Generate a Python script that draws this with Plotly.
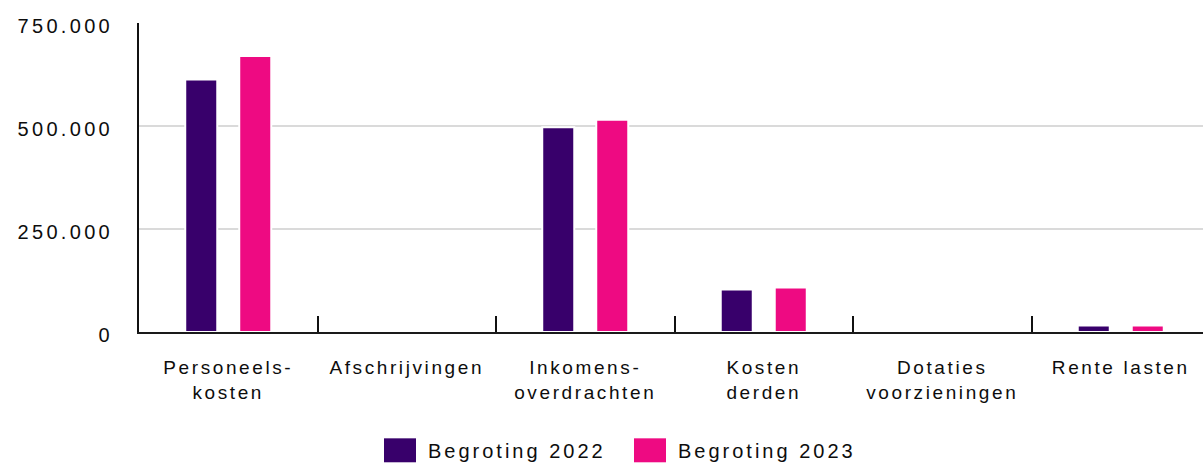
import plotly.graph_objects as go

categories = ["Personeels-<br>kosten", "Afschrijvingen", "Inkomens-<br>overdrachten",
              "Kosten<br>derden", "Dotaties<br>voorzieningen", "Rente lasten"]
series_names = ["Begroting 2022", "Begroting 2023"]
values_2022 = [613000, 0, 497000, 103000, 1000, 16000]
values_2023 = [670000, 0, 515000, 108000, 1000, 16000]
y_tickvals = [0, 250000, 500000, 750000]

colors = ["#38006b", "#ee0a82"]
FONT = "Liberation Sans, Arial, sans-serif"
TEXT = "#0d0d0d"

W, H = 1203, 464
ML, MR, MT, MB = 139, 0, 23, 131.5
PW = W - ML - MR
PH = H - MT - MB

fig = go.Figure()
for name, vals, col in zip(series_names, [values_2022, values_2023], colors):
    fig.add_trace(go.Bar(x=categories, y=vals, name=name, marker_color=col,
                         marker_line_color="white", marker_line_width=2,
                         showlegend=False, hoverinfo="skip"))

cat_px = 178.5
fig.update_layout(
    width=W, height=H,
    margin=dict(l=ML, r=MR, t=MT, b=MB, pad=0),
    paper_bgcolor="white", plot_bgcolor="white",
    barmode="group", bargap=0.395, bargroupgap=0.407,
    separators=",.",
    font=dict(family=FONT, size=19, color=TEXT),
    xaxis=dict(type="category", range=[-0.5, -0.5 + PW / cat_px],
               showline=True, linecolor="#1a1a1a", linewidth=2,
               ticks="inside", tickson="boundaries", ticklen=16, tickwidth=2,
               tickcolor="#111111", showgrid=False, ticklabelstandoff=17,
               tickfont=dict(family=FONT, size=19, color=TEXT)),
    yaxis=dict(range=[0, 750000], tickvals=y_tickvals, tickformat=",",
               showline=True, linecolor="#111111", linewidth=2,
               showgrid=True, gridcolor="#dadada", gridwidth=2,
               zeroline=False, ticks="", ticklabelstandoff=20,
               ticklabelshift=3,
               tickfont=dict(family=FONT, size=20, color=TEXT)),
)

# legend drawn as swatches + text below the plot
def px_x(p):
    return (p - ML) / PW

def px_y(p):
    return (H - MB - p) / PH

legend_swatch_x = [384, 634]
for name, col, sx in zip(series_names, colors, legend_swatch_x):
    fig.add_shape(type="rect", xref="paper", yref="paper",
                  x0=px_x(sx), x1=px_x(sx + 32), y0=px_y(463), y1=px_y(439),
                  fillcolor=col, line_width=0)
    fig.add_annotation(xref="paper", yref="paper", x=px_x(sx + 42), y=px_y(452),
                       xanchor="left", yanchor="middle", align="left",
                       showarrow=False,
                       text=name, font=dict(family=FONT, size=20, color=TEXT))

post = ("document.body.style.margin='0';"
        "document.querySelectorAll('.main-svg text').forEach(function(t){"
        "t.style.letterSpacing='2.6px';});"
        "document.querySelectorAll('.ytick text').forEach(function(t){"
        "t.style.letterSpacing='3.3px';});"
        "document.querySelectorAll('.annotation-text').forEach(function(t){"
        "t.style.letterSpacing='3px';});")
fig.write_html("out.html", post_script=post, config={"displayModeBar": False})
